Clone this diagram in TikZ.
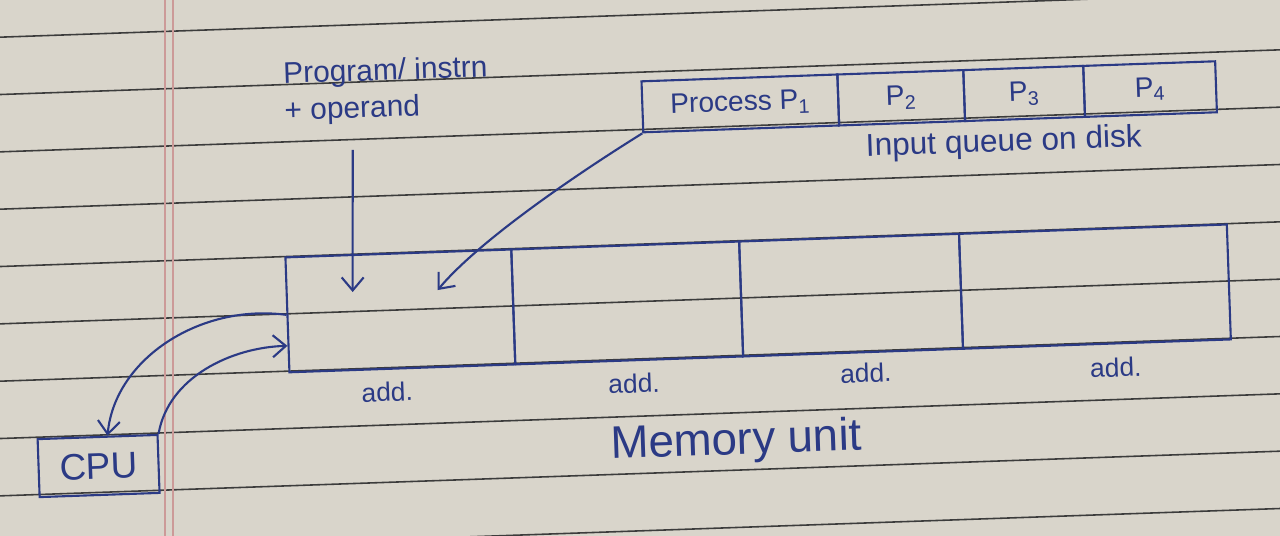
\documentclass[tikz,border=0pt]{standalone}
\usepackage{fontspec}
\setmainfont{Liberation Sans}
\usetikzlibrary{arrows.meta,calc}
\definecolor{paper}{HTML}{D9D5CB}
\definecolor{rulecol}{HTML}{3C3C3C}
\definecolor{margincol}{HTML}{CC9A98}
\definecolor{ink}{HTML}{2B3A85}
\begin{document}
\begin{tikzpicture}[x=0.02cm,y=-0.02cm,
  inkline/.style={draw=ink, line width=1.2pt},
  memcell/.style={inkline, inner sep=0pt, minimum height=2.3cm},
  qcell/.style={inkline, inner sep=0pt, minimum height=1.02cm, text=ink, font=\fontsize{16}{19}\selectfont},
  lbl/.style={text=ink, inner sep=0pt},
  addlbl/.style={lbl, font=\fontsize{15}{18}\selectfont},
  arr/.style={draw=ink, line width=1.2pt, -{Straight Barb[length=2.6mm,width=4.4mm]}},
  paperrule/.style={draw=rulecol, line width=0.9pt},
]
\useasboundingbox (0,0) rectangle (1280,536);
\fill[paper] (0,0) rectangle (1280,536);
\clip (0,0) rectangle (1280,536);
% ruled paper lines
\begin{scope}[rotate around={2:(640,268)}]
  \foreach \k in {0,...,9}
    \draw[paperrule] (-200,{15+57.3*\k}) -- (1500,{15+57.3*\k});
\end{scope}
% margin
\draw[margincol, line width=0.9pt] (165,-10) -- (165,546);
\draw[margincol, line width=0.9pt] (173,-10) -- (173,546);
% diagram
\begin{scope}[rotate around={2:(640,268)}, transform shape]
  % memory unit cells
  \node[memcell, minimum width=4.52cm] (m1) at (399,302.5) {};
  \node[memcell, minimum width=4.56cm] (m2) at (626,302.5) {};
  \node[memcell, minimum width=4.40cm] (m3) at (850,302.5) {};
  \node[memcell, minimum width=5.36cm] (m4) at (1094,302.5) {};
  \node[addlbl] (a1) at (383,383) {add.};
  \node[addlbl] (a2) at (630,383) {add.};
  \node[addlbl] (a3) at (862,381) {add.};
  \node[addlbl] (a4) at (1112,384) {add.};
  \node[lbl, font=\fontsize{26}{30}\selectfont] (mem) at (730,446) {Memory unit};
  % input queue
  \node[qcell, minimum width=3.92cm] (q1) at (746,107) {Process P\textsubscript{1}};
  \node[qcell, minimum width=2.52cm] (q2) at (907,107) {P\textsubscript{2}};
  \node[qcell, minimum width=2.40cm] (q3) at (1030,107) {P\textsubscript{3}};
  \node[qcell, minimum width=2.64cm] (q4) at (1156,107) {P\textsubscript{4}};
  \node[lbl, font=\fontsize{18}{22}\selectfont] (iq) at (1008,156) {Input queue on disk};
  % program label
  \node[lbl, font=\fontsize{17}{21}\selectfont, align=left, anchor=west] (prog) at (290,82) {Program/ instrn\\+ operand};
  % CPU
  \node[inkline, inner sep=0pt, minimum width=2.4cm, minimum height=1.16cm, text=ink,
        font=\fontsize{21}{24}\selectfont] (cpu) at (92,447) {CPU};
  % connectors
  \coordinate (ps) at (357,140);
  \coordinate (pe) at (352,282);
  \draw[arr] (ps) -- (pe);
  \coordinate (qe) at (437,283);
  \draw[arr] (q1.south west) .. controls (580,172) and (480,235) .. (qe);
  \coordinate (ct) at ($(cpu.north)+(10,0)$);
  \draw[arr] (m1.west) .. controls (200,288) and (112,340) .. (ct);
  \coordinate (me) at ($(m1.west)+(0,31)$);
  \draw[arr] (cpu.north east) .. controls (165,360) and (230,333) .. (me);
\end{scope}
\end{tikzpicture}
\end{document}
